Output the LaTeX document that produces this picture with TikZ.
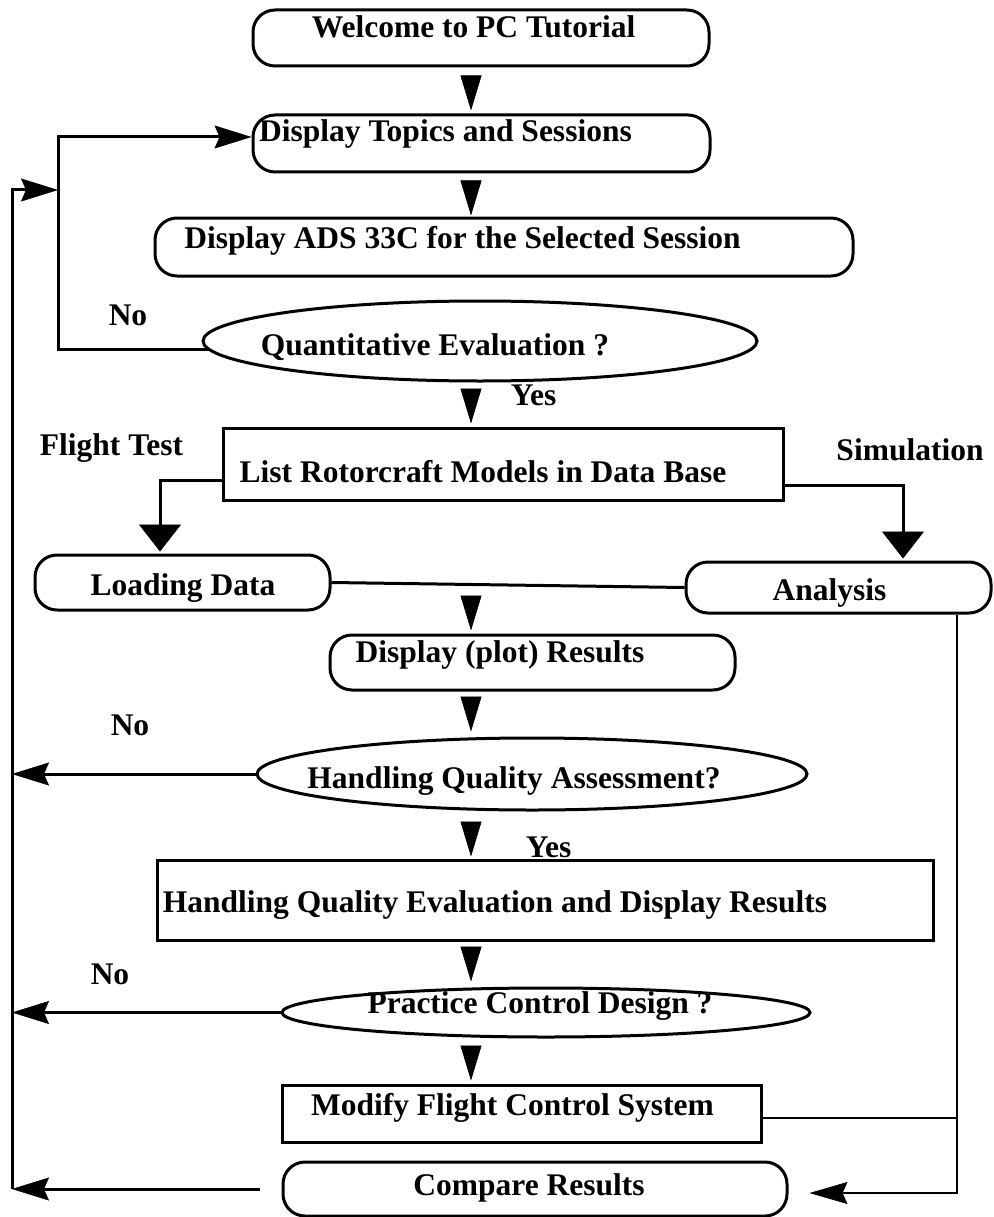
\documentclass[tikz,border=0pt]{standalone}
\usepackage{fontspec}
\setmainfont{Liberation Serif}
\usetikzlibrary{arrows.meta,shapes.geometric,calc}
\newcommand\tx[3]{\makebox[0pt]{\hspace*{#1}\hspace*{#1}\raisebox{-#2}{#3}}}
\tikzset{
  txtfont/.style={font=\bfseries\fontsize{31.5}{36}\selectfont},
  basebox/.style={draw, line width=3pt, inner sep=0pt, text height=0pt, text depth=0pt, txtfont},
  rbox/.style={basebox, rectangle, rounded corners=22pt},
  sbox/.style={basebox, rectangle},
  ebox/.style={basebox, ellipse},
  lbl/.style={anchor=base, inner sep=0pt, txtfont},
  conn/.style={line width=3pt},
  thinconn/.style={line width=2pt},
  tri/.style={conn, -{Triangle[length=35pt,width=21pt,line width=0.5pt]}},
  bigtri/.style={conn, -{Triangle[length=27pt,width=42pt,line width=0.5pt]}, shorten >=2pt},
  hd/.style={conn, -{Stealth[length=37pt,width=23pt,inset=5pt,line width=0.5pt]}},
}
\begin{document}
\begin{tikzpicture}[x=1pt,y=-1pt]
\useasboundingbox (0,0) rectangle (993,1217);

% boxes
\node[rbox, minimum width=456pt, minimum height=56pt] (welcome) at (481,38) {\tx{-7.5pt}{0pt}{Welcome to PC Tutorial}};
\node[rbox, minimum width=457pt, minimum height=57pt] (topics) at (481.5,143.5) {\tx{-36pt}{-1.5pt}{Display Topics and Sessions}};
\node[rbox, minimum width=698pt, minimum height=58pt] (ads) at (504,247) {\tx{-41.5pt}{1pt}{Display ADS 33C for the Selected Session}};
\node[ebox, minimum width=554pt, minimum height=80pt] (quant) at (480,341) {\tx{-45pt}{14pt}{Quantitative Evaluation ?}};
\node[sbox, minimum width=560pt, minimum height=72pt] (list) at (503,464) {\tx{-20pt}{18pt}{List Rotorcraft Models in Data Base}};
\node[rbox, minimum width=295pt, minimum height=55pt] (loading) at (182.5,582.5) {\tx{0.5pt}{12.5pt}{Loading Data}};
\node[rbox, minimum width=305pt, minimum height=51pt] (analysis) at (838.5,587.5) {\tx{-9pt}{12.5pt}{Analysis}};
\node[rbox, minimum width=405pt, minimum height=55pt] (plot) at (532.5,662.5) {\tx{-32.5pt}{0pt}{Display (plot) Results}};
\node[ebox, minimum width=550pt, minimum height=72pt] (hqa) at (532,774) {\tx{-18pt}{14pt}{Handling Quality Assessment?}};
\node[sbox, minimum width=776pt, minimum height=80pt] (hqe) at (545,900) {\tx{-50pt}{12pt}{Handling Quality Evaluation and Display Results}};
\node[ebox, minimum width=528pt, minimum height=49pt] (practice) at (546,1012.5) {\tx{-6pt}{0.5pt}{Practice Control Design ?}};
\node[sbox, minimum width=479pt, minimum height=57pt] (modify) at (521.5,1113.5) {\tx{-9pt}{1.5pt}{Modify Flight Control System}};
\node[rbox, minimum width=504pt, minimum height=54pt] (compare) at (535,1189) {\tx{-6pt}{6pt}{Compare Results}};

% labels
\node[lbl] (no1) at (128,325) {No};
\node[lbl] (yes1) at (533.5,405) {Yes};
\node[lbl] (ft) at (111.5,455) {Flight Test};
\node[lbl] (sim) at (910,460) {Simulation};
\node[lbl] (no2) at (130,735) {No};
\node[lbl] (yes2) at (548.5,857) {Yes};
\node[lbl] (no3) at (110,984) {No};

% helper coordinates
\coordinate (col) at (471,0);
\coordinate (la) at (471,585);
\coordinate (lt) at (58,137);
\coordinate (ox) at (12,0);
\coordinate (jn) at (58,190);
\coordinate (ftx) at (160,0);
\coordinate (simx) at (903,0);
\coordinate (rx) at (957,0);

% main column arrows
\draw[tri, shorten <=12pt, shorten >=3pt] (welcome.south -| col) -- (topics.north -| col);
\draw[tri, shorten <=11pt, shorten >=1pt] (topics.south -| col) -- (ads.north -| col);
\draw[tri, shorten <=10pt, shorten >=3pt] (quant.south -| col) -- (list.north -| col);
\draw[tri, shorten <=13pt, shorten >=3pt] (la) -- (plot.north -| col);
\draw[tri, shorten <=9pt, shorten >=5pt] (plot.south -| col) -- (hqa.north -| col);
\draw[tri, shorten <=14pt, shorten >=2pt] (hqa.south -| col) -- (hqe.north -| col);
\draw[tri, shorten <=9pt, shorten >=5pt] (hqe.south -| col) -- (practice.north -| col);
\draw[tri, shorten <=11pt, shorten >=3pt] (practice.south -| col) -- (modify.north -| col);

% branches
\draw[bigtri] ($(list.west)+(0,16)$) -| (loading.north -| ftx);
\draw[bigtri] ($(list.east)+(0,21)$) -| (analysis.north -| simx);
\draw[conn] (loading.east) -- (analysis.west);

% inner loop (No -> Display Topics)
\draw[hd] ($(quant.center)+(-270,8)$) -| (lt) -- ($(topics.west)+(0,-6.5)$);

% outer loop
\draw[hd] (compare.west -| ox) |- (jn);
\draw[hd, shorten <=22pt] (compare.west) -- (compare.west -| ox);
\draw[hd] (hqa.west) -- (hqa.west -| ox);
\draw[hd] (practice.west) -- (practice.west -| ox);

% right side
\draw[thinconn] ($(modify.east)+(0,4)$) -- ($(modify.east -| rx)+(0,4)$);
\draw[thinconn, -{Stealth[length=38pt,width=22pt,inset=5pt,line width=0.5pt]}, shorten >=21pt] (analysis.south -| rx) |- ($(compare.east)+(0,4)$);
\end{tikzpicture}
\end{document}
